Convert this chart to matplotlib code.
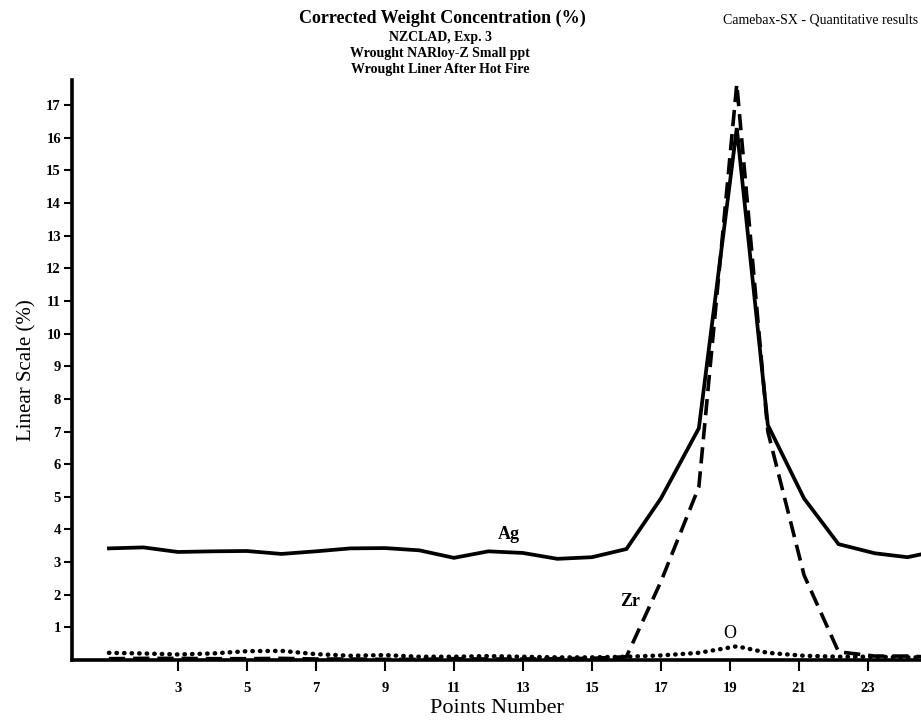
import numpy as np
import matplotlib
matplotlib.use('Agg')
import matplotlib.pyplot as plt

plt.rcParams['font.family'] = ['Liberation Serif', 'DejaVu Serif']

# point positions (peak region is slightly shifted)
points = [1, 2, 3, 4, 5, 6, 7, 8, 9, 10, 11, 12, 13, 14, 15, 16, 17, 18.1, 19.2, 20.1, 21.15, 22.15, 23.2, 24.15, 24.6]
ag = [3.42, 3.45, 3.31, 3.33, 3.34, 3.25, 3.33, 3.42, 3.43, 3.36, 3.13, 3.33, 3.28, 3.1, 3.15, 3.4, 4.95, 7.1, 16.3, 7.2, 4.95, 3.55, 3.27, 3.15, 3.25]
zr = [0.04, 0.05, 0.05, 0.04, 0.04, 0.05, 0.03, 0.03, 0.02, 0.02, 0.04, 0.03, 0.03, 0.04, 0.05, 0.1, 2.4, 5.3, 17.65, 7.0, 2.6, 0.25, 0.12, 0.12, 0.1]
o = [0.22, 0.2, 0.17, 0.2, 0.27, 0.28, 0.18, 0.13, 0.15, 0.1, 0.1, 0.12, 0.1, 0.08, 0.08, 0.1, 0.14, 0.22, 0.42, 0.22, 0.13, 0.1, 0.1, 0.08, 0.08]

xticks = [3, 5, 7, 9, 11, 13, 15, 17, 19, 21, 23]
yticks = list(range(1, 18))

fig = plt.figure(figsize=(9.21, 7.24), dpi=100)
ax = fig.add_axes([0.0782, 0.0884, 0.9218, 0.801])

ax.plot(points, ag, color='black', linestyle='-', linewidth=2.7, solid_joinstyle='miter')
ax.plot(points, zr, color='black', linestyle=(0, (4.5, 2.2)), linewidth=2.6)
ax.plot(points, o, color='black', linestyle=(0, (0.1, 1.6)), linewidth=3.2, dash_capstyle='round')

ax.set_xlim(-0.07, 24.54)
ax.set_ylim(0, 17.77)
ax.set_xticks(xticks)
ax.set_yticks(yticks)
ax.tick_params(axis='both', direction='out', width=1.5, labelsize=10.5)
ax.tick_params(axis='x', length=8, pad=8)
ax.tick_params(axis='y', length=6, pad=2)
for lbl in ax.get_xticklabels() + ax.get_yticklabels():
    lbl.set_fontweight('bold')

ax.spines['top'].set_visible(False)
ax.spines['right'].set_visible(False)
ax.spines['left'].set_linewidth(2.6)
ax.spines['bottom'].set_linewidth(2.6)

ax.set_xlabel('Points Number', fontsize=16, labelpad=3)
ax.set_ylabel('Linear Scale (%)', fontsize=15, labelpad=7)

ax.text(12.6, 3.6, 'Ag', fontsize=13, fontweight='bold', ha='center', va='bottom')
ax.text(16.1, 1.8, 'Zr', fontsize=13, fontweight='bold', ha='center', va='center')
ax.text(19.0, 0.55, 'O', fontsize=13, ha='center', va='bottom')

fig.text(0.48, 0.975, 'Corrected Weight Concentration (%)', fontsize=13, fontweight='bold', ha='center', va='center')
fig.text(0.478, 0.948, 'NZCLAD, Exp. 3', fontsize=10, fontweight='bold', ha='center', va='center')
fig.text(0.478, 0.926, 'Wrought NARloy-Z Small ppt', fontsize=10, fontweight='bold', ha='center', va='center')
fig.text(0.478, 0.904, 'Wrought Liner After Hot Fire', fontsize=10, fontweight='bold', ha='center', va='center')
fig.text(0.997, 0.972, 'Camebax-SX - Quantitative results', fontsize=10, ha='right', va='center')

fig.savefig('out.png', dpi=100)
